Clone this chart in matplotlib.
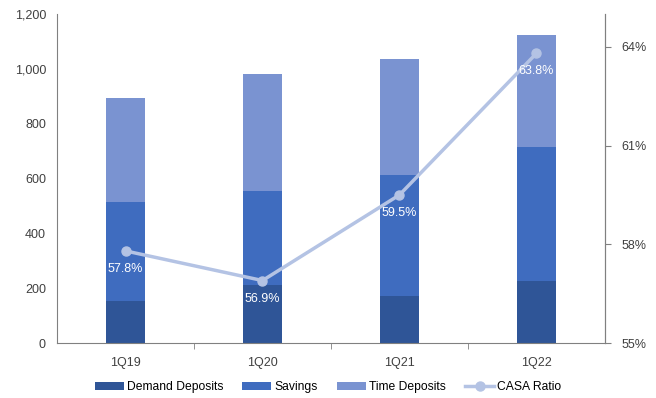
import matplotlib.pyplot as plt
from matplotlib.ticker import FuncFormatter, FixedLocator
import numpy as np

plt.rcParams['font.family'] = ['Liberation Sans', 'DejaVu Sans']
plt.rcParams['font.size'] = 9

quarters = ['1Q19', '1Q20', '1Q21', '1Q22']
demand = [155, 210, 170, 227]
savings = [359, 346, 443, 487]
time_dep = [379, 426, 424, 410]
casa_ratio = [57.8, 56.9, 59.5, 63.8]

c_demand = '#2F5597'
c_savings = '#3F6CBF'
c_time = '#7A93D1'
c_line = '#B4C3E4'
c_axis = '#808080'

fig = plt.figure(figsize=(6.56, 3.98), dpi=100)
ax = fig.add_axes([0.087, 0.138, 0.835, 0.827])
x = np.arange(len(quarters))
w = 0.29

ax.bar(x, demand, w, color=c_demand, label='Demand Deposits')
ax.bar(x, savings, w, bottom=demand, color=c_savings, label='Savings')
bottom2 = np.array(demand) + np.array(savings)
ax.bar(x, time_dep, w, bottom=bottom2, color=c_time, label='Time Deposits')

ax.set_xlim(-0.5, 3.5)
ax.set_ylim(0, 1200)
ax.set_yticks(range(0, 1201, 200))
ax.yaxis.set_major_formatter(FuncFormatter(lambda v, p: f'{int(v):,}'))
ax.set_xticks(x)
ax.set_xticklabels(quarters)
ax.xaxis.set_minor_locator(FixedLocator([0.5, 1.5, 2.5]))
ax.tick_params(axis='x', which='major', length=0, pad=10, colors='#404040')
ax.tick_params(axis='x', which='minor', length=4, color=c_axis)
ax.tick_params(axis='y', length=0, pad=8, colors='#404040')

ax.spines['top'].set_visible(False)
for s in ['left', 'bottom', 'right']:
    ax.spines[s].set_color(c_axis)

ax2 = ax.twinx()
ax2.plot(x, casa_ratio, color=c_line, lw=2.5, marker='o', ms=6.5, label='CASA Ratio')
ax2.set_ylim(55, 65)
ax2.set_yticks([55, 58, 61, 64])
ax2.yaxis.set_major_formatter(FuncFormatter(lambda v, p: f'{int(v)}%'))
ax2.tick_params(axis='y', length=4, color=c_axis, pad=8, colors='#404040')
ax2.spines['top'].set_visible(False)
ax2.spines['right'].set_color(c_axis)
ax2.spines['left'].set_visible(False)
ax2.spines['bottom'].set_visible(False)

for xi, v in zip(x, casa_ratio):
    ax2.annotate(f'{v}%', (xi, v), xytext=(0, -13), textcoords='offset points',
                 ha='center', va='center', color='white', fontsize=9)

h1, l1 = ax.get_legend_handles_labels()
h2, l2 = ax2.get_legend_handles_labels()
fig.legend(h1 + h2, l1 + l2, loc='lower center', bbox_to_anchor=(0.5, -0.015),
           ncol=4, frameon=False, handlelength=2.4, handleheight=0.6,
           columnspacing=1.6, handletextpad=0.25, fontsize=8.7)

fig.savefig('out.png', dpi=100)
